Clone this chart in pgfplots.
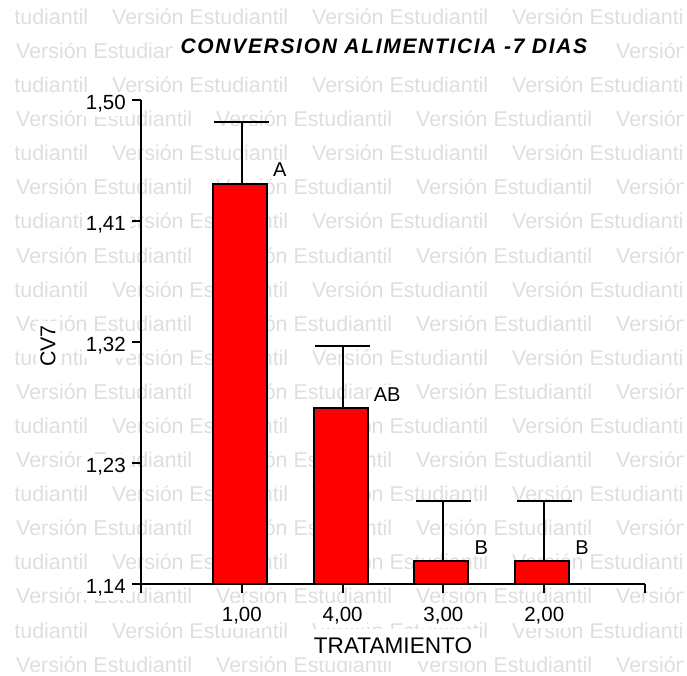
\documentclass[border=0pt]{standalone}
\usepackage{pgfplots}
\pgfplotsset{compat=1.18}
\usepackage{fontspec}
\setmainfont{Liberation Sans}
\definecolor{wm}{gray}{0.87}
\definecolor{barred}{RGB}{255,0,0}

\pgfplotstableread{
x y e
1 1.438 0.046
2 1.271 0.046
3 1.157 0.045
4 1.157 0.045
}\cvdata

\begin{document}
\begin{tikzpicture}
\useasboundingbox (0pt,0pt) rectangle (687pt,675pt);
\begin{scope}[x=1pt,y=1pt]
\clip (15.5,0) rectangle (683,675);
\foreach \k in {1,...,20}{
  \pgfmathsetmacro{\yb}{675-24.4-(\k-1)*34.09}
  \pgfmathsetmacro{\xoff}{ifthenelse(mod(\k,2)==1,112,16)}
  \foreach \j in {-1,0,1,2,3}{
    \node[anchor=base west, inner sep=0pt, text=wm, font=\fontsize{21.4}{21}\selectfont]
      at ({\xoff+200*\j}, \yb) {Versión Estudiantil};
  }
}
\end{scope}
\begin{axis}[
  at={(141pt,91pt)}, anchor=south west,
  scale only axis, width=504pt, height=483.5pt,
  xmin=0, xmax=5, ymin=1.14, ymax=1.50,
  axis x line*=bottom, axis y line*=left,
  axis line style={line width=2pt, black},
  tick style={line width=2pt, black},
  tick align=outside, major tick length=9pt,
  xtick={0,1,2,3,4,5},
  xticklabels={{},{1,00},{4,00},{3,00},{2,00},{}},
  ytick={1.14,1.23,1.32,1.41,1.50},
  yticklabels={{1,14},{1,23},{1,32},{1,41},{1,50}},
  ticklabel style={font=\fontsize{20.5}{24}\selectfont, fill=white, inner sep=4pt},
  yticklabel style={yshift=-3.5pt, xshift=-2pt},
  xticklabel shift=9.5pt,
  xlabel={TRATAMIENTO}, ylabel={CV7},
  xlabel style={at={(axis description cs:0.5,-0.1427)}, anchor=base,
    font=\fontsize{22.6}{26}\selectfont, fill=white, inner sep=8pt},
  ylabel style={at={(axis description cs:-0.1845,0.492)}, anchor=center,
    font=\fontsize{21.4}{24}\selectfont, fill=white, inner sep=4pt},
  every axis title shift=0pt,
  title={CONVERSION ALIMENTICIA -7 DIAS},
  title style={at={(axis description cs:0.482,1.0982)}, anchor=base,
    font=\fontsize{21}{24}\selectfont\bfseries\itshape\addfontfeature{LetterSpace=8},
    fill=white, inner sep=8pt},
  axis on top,
]
\addplot[ybar, bar width=54pt, bar shift=-2pt, fill=barred, draw=black, line width=2pt,
  error bars/.cd, y dir=plus, y explicit,
  error bar style={line width=2pt, black},
  error mark options={rotate=90, mark size=27.5pt, line width=2pt, black}]
  table[x=x, y=y, y error=e] {\cvdata};
\node[anchor=base west, inner sep=2pt, fill=white, font=\fontsize{20}{20}\selectfont]
  at ([xshift=2pt,yshift=7pt]axis cs:1.268,1.438) {A};
\node[anchor=base west, inner sep=2pt, fill=white, font=\fontsize{20}{20}\selectfont]
  at ([xshift=2pt,yshift=7pt]axis cs:2.268,1.271) {AB};
\node[anchor=base west, inner sep=2pt, fill=white, font=\fontsize{20}{20}\selectfont]
  at ([xshift=2pt,yshift=7pt]axis cs:3.268,1.157) {B};
\node[anchor=base west, inner sep=2pt, fill=white, font=\fontsize{20}{20}\selectfont]
  at ([xshift=2pt,yshift=7pt]axis cs:4.268,1.157) {B};
\end{axis}
\end{tikzpicture}
\end{document}
